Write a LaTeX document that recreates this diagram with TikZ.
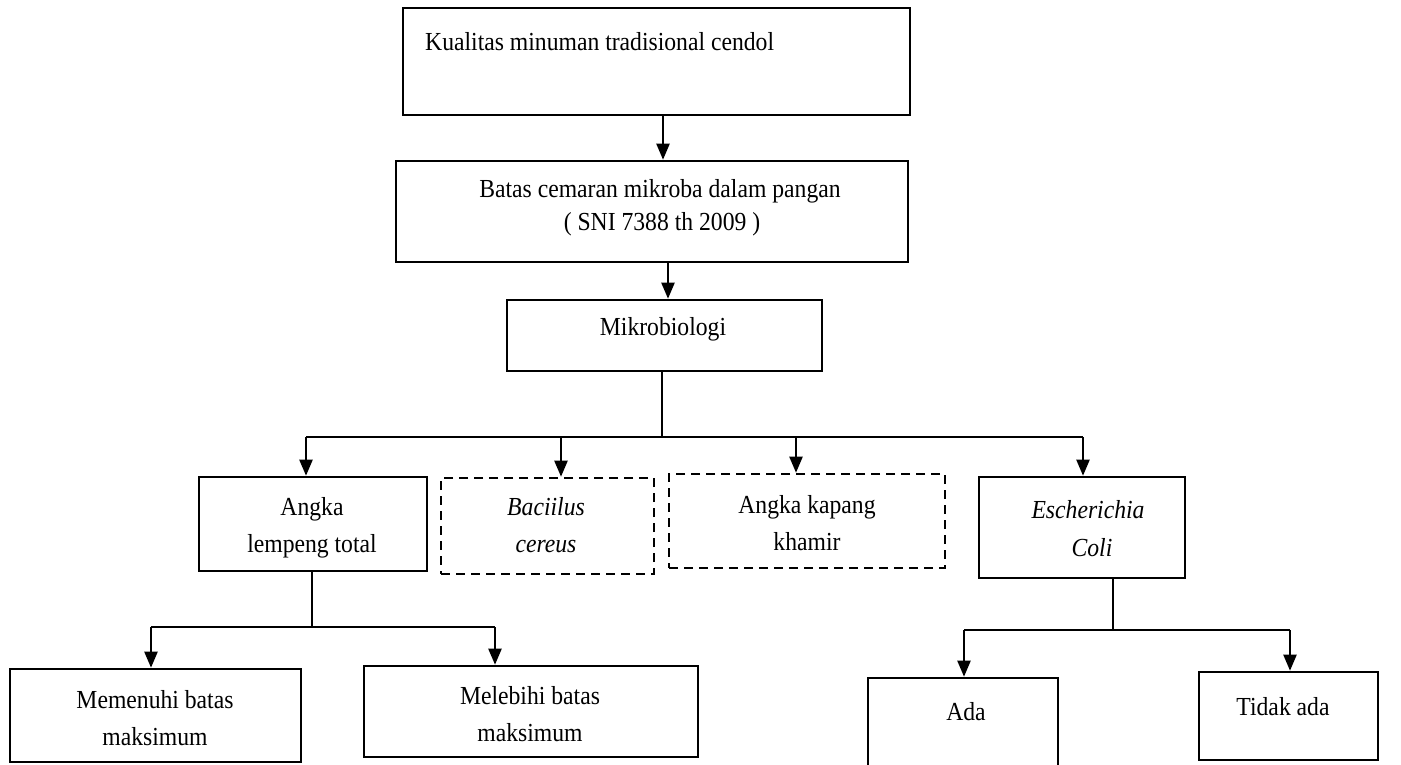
\documentclass[tikz,border=0pt]{standalone}
\usepackage{fontspec}
\setmainfont{Liberation Serif}[FakeStretch=0.91]
\usetikzlibrary{arrows.meta}
\tikzset{
  box/.style={draw, line width=2.6pt, rectangle, inner sep=0pt},
  dbox/.style={box, dash pattern=on 9pt off 6pt},
  arr/.style={line width=2.2pt, -{Triangle[width=13pt,length=16pt]}},
  ln/.style={line width=1.3pt},
  txt/.style={anchor=base, inner sep=0pt, font=\fontsize{26}{30}\selectfont},
  itxt/.style={txt, font=\fontsize{26}{30}\selectfont\itshape}
}
\newcommand{\mkbox}[6]{%
  \node[#1, minimum width={#5-#3}, minimum height={#6-#4}] (#2) at ({(#3+#5)/2},{(#4+#6)/2}) {};}
\begin{document}
\begin{tikzpicture}[x=1pt,y=-1pt]
\useasboundingbox[fill=white] (0,0) rectangle (1401,764);
% boxes
\mkbox{box}{box1}{403}{8}{910}{115}
\mkbox{box}{box2}{396}{161}{908}{262}
\mkbox{box}{box3}{507}{300}{822}{371}
\mkbox{box}{alt}{199}{477}{427}{571}
\mkbox{dbox}{bac}{441}{478}{654}{574}
\mkbox{dbox}{akk}{669}{474}{945}{568}
\mkbox{box}{eco}{979}{477}{1185}{578}
\mkbox{box}{mem}{10}{669}{301}{762}
\mkbox{box}{mel}{364}{666}{698}{757}
\mkbox{box}{ada}{868}{678}{1058}{780}
\mkbox{box}{tid}{1199}{672}{1378}{760}
% texts
\node[txt, anchor=base west] (t1) at (425,50) {Kualitas minuman tradisional cendol};
\node[txt] (t2a) at (660,197) {Batas cemaran mikroba dalam pangan};
\node[txt] (t2b) at (662,230) {( SNI 7388 th 2009 )};
\node[txt] (t3) at (663,335) {Mikrobiologi};
\node[txt] (t4a) at (312,515) {Angka};
\node[txt] (t4b) at (312,552) {lempeng total};
\node[itxt] (t5a) at (546,515) {Baciilus};
\node[itxt] (t5b) at (546,552) {cereus};
\node[txt] (t6a) at (807,513) {Angka kapang};
\node[txt] (t6b) at (807,550) {khamir};
\node[itxt] (t7a) at (1088,518) {Escherichia};
\node[itxt] (t7b) at (1092,556) {Coli};
\node[txt] (t8a) at (155,708) {Memenuhi batas};
\node[txt] (t8b) at (155,745) {maksimum};
\node[txt] (t9a) at (530,704) {Melebihi batas};
\node[txt] (t9b) at (530,741) {maksimum};
\node[txt] (t10) at (966,720) {Ada};
\node[txt] (t11) at (1283,715) {Tidak ada};
% junction coordinates
\coordinate (j1) at (662,437);
\coordinate (j2) at (312,627);
\coordinate (j3) at (1113,630);
% connectors
\draw[arr] (663,0 |- box1.south) -- (663,0 |- box2.north);
\draw[arr] (668,0 |- box2.south) -- (668,0 |- box3.north);
\draw[ln] (662,0 |- box3.south) -- (j1);
\draw[ln] (306,0 |- j1) -- (1083,0 |- j1);
\draw[arr] (306,0 |- j1) -- (306,0 |- alt.north);
\draw[arr] (561,0 |- j1) -- (561,0 |- bac.north);
\draw[arr] (796,0 |- j1) -- (796,0 |- akk.north);
\draw[arr] (1083,0 |- j1) -- (1083,0 |- eco.north);
\draw[ln] (312,0 |- alt.south) -- (j2);
\draw[ln] (151,0 |- j2) -- (495,0 |- j2);
\draw[arr] (151,0 |- j2) -- (151,0 |- mem.north);
\draw[arr] (495,0 |- j2) -- (495,0 |- mel.north);
\draw[ln] (1113,0 |- eco.south) -- (j3);
\draw[ln] (964,0 |- j3) -- (1290,0 |- j3);
\draw[arr] (964,0 |- j3) -- (964,0 |- ada.north);
\draw[arr] (1290,0 |- j3) -- (1290,0 |- tid.north);
\end{tikzpicture}
\end{document}
